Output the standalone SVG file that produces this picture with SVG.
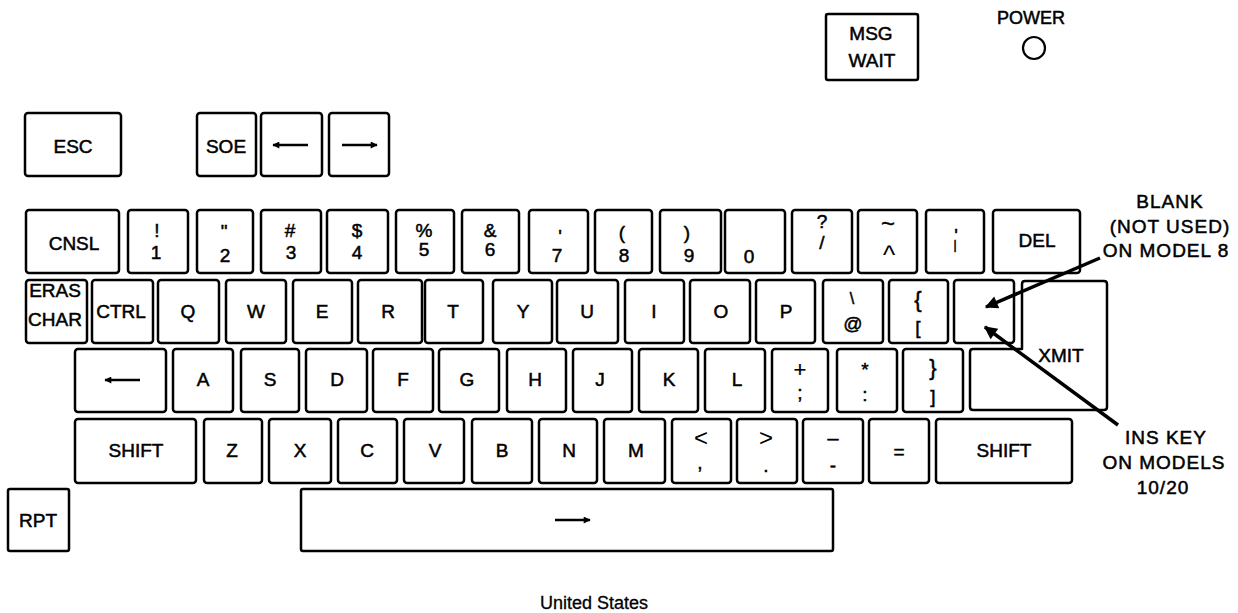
<svg xmlns="http://www.w3.org/2000/svg" width="1238" height="613" viewBox="0 0 1238 613">
<style>
.k{fill:#fff;stroke:#000;stroke-width:2.5;stroke-linejoin:round}
text{font-family:"Liberation Sans",Arial,sans-serif;font-size:19px;fill:#000;stroke:#000;stroke-width:0.5;text-anchor:middle}
.note{font-size:19px;letter-spacing:1px}
.ar{stroke:#000;stroke-width:2.5;fill:none}
.ca{stroke:#000;stroke-width:3.5;fill:none}
</style>
<defs>
<marker id="ah" viewBox="0 0 10 10" refX="9" refY="5" markerWidth="9" markerHeight="7" markerUnits="userSpaceOnUse" orient="auto"><path d="M0,0 L10,5 L0,10 Z" fill="#000"/></marker>
<marker id="bh" viewBox="0 0 10 10" refX="9" refY="5" markerWidth="18" markerHeight="13" markerUnits="userSpaceOnUse" orient="auto"><path d="M0,0 L10,5 L0,10 Z" fill="#000"/></marker>
</defs>
<rect width="1238" height="613" fill="#fff"/>

<g id="k-esc"><rect class="k" x="25" y="113" width="96" height="63" rx="3"/><text x="73" y="153">ESC</text></g>
<g id="k-soe"><rect class="k" x="197" y="113" width="59" height="63" rx="3"/><text x="226" y="153">SOE</text></g>
<g id="k-left"><rect class="k" x="261" y="113" width="61" height="63" rx="3"/><line class="ar" x1="308" y1="145" x2="273" y2="145" marker-end="url(#ah)"/></g>
<g id="k-right"><rect class="k" x="329" y="113" width="60" height="63" rx="3"/><line class="ar" x1="342" y1="145" x2="377" y2="145" marker-end="url(#ah)"/></g>
<g id="k-msgwait"><rect class="k" x="826" y="14" width="92" height="66" rx="2"/><text x="871" y="40">MSG</text><text x="872" y="67">WAIT</text></g>
<g id="power"><text x="1031" y="24" style="font-size:18px">POWER</text><circle cx="1034" cy="48" r="11" fill="none" stroke="#000" stroke-width="2.2"/></g>

<g id="k-cnsl"><rect class="k" x="26" y="210" width="93" height="63" rx="3"/><text x="74" y="250">CNSL</text></g>
<g id="k-1"><rect class="k" x="128" y="210" width="60" height="63" rx="3"/><text x="157" y="237">!</text><text x="156" y="259">1</text></g>
<g id="k-2"><rect class="k" x="197" y="210" width="56" height="63" rx="3"/><text x="224" y="238">"</text><text x="225" y="262">2</text></g>
<g id="k-3"><rect class="k" x="261" y="210" width="60" height="63" rx="3"/><text x="290" y="237">#</text><text x="291" y="259">3</text></g>
<g id="k-4"><rect class="k" x="327" y="210" width="61" height="63" rx="3"/><text x="357" y="237">$</text><text x="357" y="259">4</text></g>
<g id="k-5"><rect class="k" x="396" y="210" width="58" height="63" rx="3"/><text x="424" y="237">%</text><text x="424" y="256">5</text></g>
<g id="k-6"><rect class="k" x="462" y="210" width="57" height="63" rx="3"/><text x="490" y="237">&amp;</text><text x="490" y="256">6</text></g>
<g id="k-7"><rect class="k" x="529" y="210" width="59" height="63" rx="3"/><text x="560" y="243">'</text><text x="557" y="262">7</text></g>
<g id="k-8"><rect class="k" x="595" y="210" width="57" height="63" rx="3"/><text x="622" y="239">(</text><text x="624" y="262">8</text></g>
<g id="k-9"><rect class="k" x="660" y="210" width="61" height="63" rx="3"/><text x="687" y="239">)</text><text x="689" y="262">9</text></g>
<g id="k-0"><rect class="k" x="725" y="210" width="60" height="63" rx="3"/><text x="749" y="263">0</text></g>
<g id="k-slash"><rect class="k" x="792" y="210" width="60" height="63" rx="3"/><text x="822" y="228">?</text><text x="822" y="249">/</text></g>
<g id="k-caret"><rect class="k" x="858" y="210" width="59" height="63" rx="3"/><text x="888" y="232" style="font-size:24px;stroke-width:0.3">~</text><text x="889" y="264" style="font-size:26px;stroke-width:0">^</text></g>
<g id="k-bar"><rect class="k" x="926" y="210" width="58" height="63" rx="3"/><text x="956" y="242">'</text><text x="955" y="249" style="font-size:12px">|</text></g>
<g id="k-del"><rect class="k" x="993" y="210" width="87" height="63" rx="3"/><text x="1037" y="247">DEL</text></g>

<g id="k-eras"><rect class="k" x="26" y="280" width="61" height="63" rx="3"/><text x="55" y="297">ERAS</text><text x="55" y="326">CHAR</text></g>
<g id="k-ctrl"><rect class="k" x="92" y="280" width="61" height="63" rx="3"/><text x="121" y="318">CTRL</text></g>
<g id="k-q"><rect class="k" x="158" y="280" width="61" height="63" rx="3"/><text x="188" y="318">Q</text></g>
<g id="k-w"><rect class="k" x="226" y="280" width="60" height="63" rx="3"/><text x="256" y="318">W</text></g>
<g id="k-e"><rect class="k" x="293" y="280" width="59" height="63" rx="3"/><text x="322" y="318">E</text></g>
<g id="k-r"><rect class="k" x="358" y="280" width="64" height="63" rx="3"/><text x="388" y="318">R</text></g>
<g id="k-t"><rect class="k" x="425" y="280" width="58" height="63" rx="3"/><text x="453" y="318">T</text></g>
<g id="k-y"><rect class="k" x="493" y="280" width="59" height="63" rx="3"/><text x="523" y="318">Y</text></g>
<g id="k-u"><rect class="k" x="557" y="280" width="61" height="63" rx="3"/><text x="587" y="318">U</text></g>
<g id="k-i"><rect class="k" x="625" y="280" width="59" height="63" rx="3"/><text x="654" y="318">I</text></g>
<g id="k-o"><rect class="k" x="690" y="280" width="60" height="63" rx="3"/><text x="721" y="318">O</text></g>
<g id="k-p"><rect class="k" x="756" y="280" width="59" height="63" rx="3"/><text x="786" y="318">P</text></g>
<g id="k-at"><rect class="k" x="823" y="280" width="60" height="63" rx="3"/><text x="852" y="304" style="font-size:16px">\</text><text x="853" y="330">@</text></g>
<g id="k-brace"><rect class="k" x="889" y="280" width="59" height="63" rx="3"/><text x="918" y="307" style="font-size:22px">{</text><text x="918" y="334">[</text></g>
<g id="k-blank"><rect class="k" x="954" y="280" width="60" height="63" rx="3"/></g>
<g id="k-xmit"><path class="k" d="M1025,281 H1104 Q1107,281 1107,284 V407 Q1107,410 1104,410 H973 Q970,410 970,407 V352 Q970,349 973,349 H1022 V284 Q1022,281 1025,281 Z"/><text x="1061" y="362">XMIT</text></g>

<g id="k-bksp"><rect class="k" x="75" y="349" width="91" height="63" rx="3"/><line class="ar" x1="140" y1="380" x2="105" y2="380" marker-end="url(#ah)"/></g>
<g id="k-a"><rect class="k" x="173" y="349" width="60" height="63" rx="3"/><text x="203" y="386">A</text></g>
<g id="k-s"><rect class="k" x="241" y="349" width="58" height="63" rx="3"/><text x="270" y="386">S</text></g>
<g id="k-d"><rect class="k" x="306" y="349" width="61" height="63" rx="3"/><text x="337" y="386">D</text></g>
<g id="k-f"><rect class="k" x="373" y="349" width="60" height="63" rx="3"/><text x="403" y="386">F</text></g>
<g id="k-g"><rect class="k" x="439" y="349" width="60" height="63" rx="3"/><text x="467" y="386">G</text></g>
<g id="k-h"><rect class="k" x="507" y="349" width="59" height="63" rx="3"/><text x="535" y="386">H</text></g>
<g id="k-j"><rect class="k" x="573" y="349" width="59" height="63" rx="3"/><text x="600" y="386">J</text></g>
<g id="k-k"><rect class="k" x="639" y="349" width="59" height="63" rx="3"/><text x="669" y="386">K</text></g>
<g id="k-l"><rect class="k" x="705" y="349" width="60" height="63" rx="3"/><text x="737" y="386">L</text></g>
<g id="k-semi"><rect class="k" x="772" y="349" width="56" height="63" rx="3"/><text x="800" y="377" style="font-size:22px;stroke-width:0.2">+</text><text x="800" y="399">;</text></g>
<g id="k-colon"><rect class="k" x="837" y="349" width="60" height="63" rx="3"/><text x="865" y="376">*</text><text x="865" y="401">:</text></g>
<g id="k-rbrace"><rect class="k" x="903" y="349" width="60" height="63" rx="3"/><text x="933" y="375" style="font-size:22px">}</text><text x="933" y="403">]</text></g>

<g id="k-lshift"><rect class="k" x="75" y="419" width="121" height="64" rx="3"/><text x="136" y="457">SHIFT</text></g>
<g id="k-z"><rect class="k" x="204" y="419" width="58" height="64" rx="3"/><text x="232" y="457">Z</text></g>
<g id="k-x"><rect class="k" x="269" y="419" width="62" height="64" rx="3"/><text x="300" y="457">X</text></g>
<g id="k-c"><rect class="k" x="338" y="419" width="59" height="64" rx="3"/><text x="367" y="457">C</text></g>
<g id="k-v"><rect class="k" x="404" y="419" width="60" height="64" rx="3"/><text x="435" y="457">V</text></g>
<g id="k-b"><rect class="k" x="472" y="419" width="60" height="64" rx="3"/><text x="502" y="457">B</text></g>
<g id="k-n"><rect class="k" x="539" y="419" width="58" height="64" rx="3"/><text x="569" y="457">N</text></g>
<g id="k-m"><rect class="k" x="604" y="419" width="61" height="64" rx="3"/><text x="636" y="457">M</text></g>
<g id="k-comma"><rect class="k" x="672" y="419" width="59" height="64" rx="3"/><text x="701" y="446" style="font-size:24px;stroke-width:0">&lt;</text><text x="700" y="469">,</text></g>
<g id="k-period"><rect class="k" x="737" y="419" width="60" height="64" rx="3"/><text x="766" y="446" style="font-size:24px;stroke-width:0">&gt;</text><text x="766" y="472">.</text></g>
<g id="k-minus"><rect class="k" x="803" y="419" width="60" height="64" rx="3"/><text x="833" y="436">_</text><text x="833" y="472">-</text></g>
<g id="k-equal"><rect class="k" x="869" y="419" width="60" height="64" rx="3"/><text x="899" y="458">=</text></g>
<g id="k-rshift"><rect class="k" x="936" y="419" width="136" height="64" rx="3"/><text x="1004" y="457">SHIFT</text></g>

<g id="k-rpt"><rect class="k" x="8" y="489" width="61" height="62" rx="2"/><text x="38" y="527">RPT</text></g>
<g id="k-space"><rect class="k" x="301" y="489" width="532" height="62" rx="2"/><line class="ar" x1="555" y1="520" x2="590" y2="520" marker-end="url(#ah)"/></g>

<g id="note-blank"><text class="note" x="1170" y="208">BLANK</text><text class="note" x="1170" y="233">(NOT USED)</text><text class="note" x="1166" y="257">ON MODEL 8</text></g>
<g id="note-ins"><text class="note" x="1166" y="444">INS KEY</text><text class="note" x="1164" y="469">ON MODELS</text><text class="note" x="1163" y="494">10/20</text></g>
<g id="connectors">
<line class="ca" x1="1100" y1="258" x2="986" y2="307" marker-end="url(#bh)"/>
<line class="ca" x1="1118" y1="425" x2="985" y2="327" marker-end="url(#bh)"/>
</g>
<text x="594" y="609" style="font-size:18px;stroke-width:0.3">United States</text>
</svg>
